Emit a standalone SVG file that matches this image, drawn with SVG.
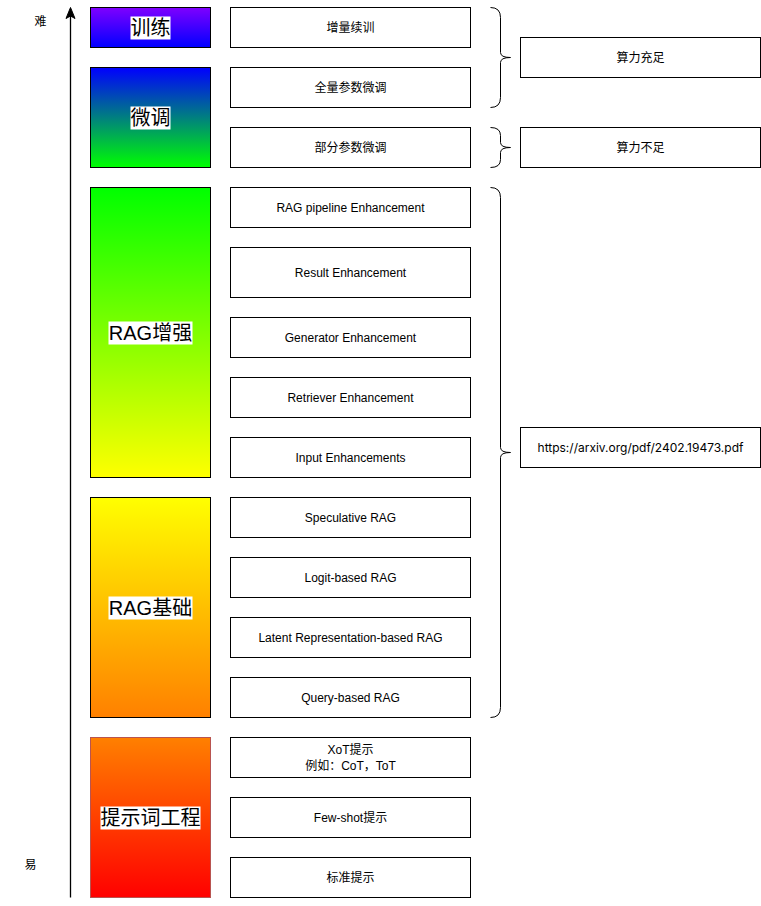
<svg xmlns="http://www.w3.org/2000/svg" width="761" height="906" viewBox="0 0 761 906">
<defs>
<linearGradient id="g1" x1="0" y1="0" x2="0" y2="1"><stop offset="0" stop-color="#7F00FF"/><stop offset="1" stop-color="#0000FF"/></linearGradient>
<linearGradient id="g2" x1="0" y1="0" x2="0" y2="1"><stop offset="0" stop-color="#0000FF"/><stop offset="1" stop-color="#00FF00"/></linearGradient>
<linearGradient id="g3" x1="0" y1="0" x2="0" y2="1"><stop offset="0" stop-color="#00FF00"/><stop offset="1" stop-color="#FFFF00"/></linearGradient>
<linearGradient id="g4" x1="0" y1="0" x2="0" y2="1"><stop offset="0" stop-color="#FFFF00"/><stop offset="1" stop-color="#FF8000"/></linearGradient>
<linearGradient id="g5" x1="0" y1="0" x2="0" y2="1"><stop offset="0" stop-color="#FF8000"/><stop offset="1" stop-color="#FF0000"/></linearGradient>
</defs>
<style>
text{font-family:"Liberation Sans","Noto Sans CJK SC",sans-serif;fill:#000;}
.t{font-size:12px;text-anchor:middle;dominant-baseline:central;}
.big{font-size:20px;text-anchor:middle;dominant-baseline:central;}
.box{fill:#fff;stroke:#000;stroke-width:1;}
.lvl{stroke:#000;stroke-width:1;}
.lbl{fill:#fff;}
.brace{fill:none;stroke:#000;stroke-width:1;}
.ax{font-size:12px;}
</style>
<rect width="761" height="906" fill="#fff"/>
<g transform="translate(0.5,0.5)">
<g id="axis">
<line x1="70" y1="897" x2="70" y2="14" stroke="#000" stroke-width="1.3"/>
<path d="M70,7 L74.5,18 L70,15.5 L65.5,18 Z" fill="#000" stroke="#000" stroke-width="1"/>
<text class="ax" x="40" y="21" text-anchor="middle" dominant-baseline="central">难</text>
<text class="ax" x="30" y="864" text-anchor="middle" dominant-baseline="central">易</text>
</g>

<g id="lvl-train"><rect class="lvl" x="90" y="7" width="120" height="40" fill="url(#g1)"/><rect class="lbl" x="130" y="16" width="40" height="23"/><text class="big" x="150" y="27">训练</text></g>
<g id="lvl-ft"><rect class="lvl" x="90" y="67" width="120" height="100" fill="url(#g2)"/><rect class="lbl" x="130" y="106" width="40" height="23"/><text class="big" x="150" y="117">微调</text></g>
<g id="lvl-rag-plus"><rect class="lvl" x="90" y="187" width="120" height="290" fill="url(#g3)"/><rect class="lbl" x="108" y="321" width="84" height="23"/><text class="big" x="150" y="332">RAG增强</text></g>
<g id="lvl-rag-base"><rect class="lvl" x="90" y="497" width="120" height="220" fill="url(#g4)"/><rect class="lbl" x="108" y="596" width="84" height="23"/><text class="big" x="150" y="607">RAG基础</text></g>
<g id="lvl-prompt"><rect x="90" y="737" width="120" height="160" fill="url(#g5)" stroke="#b85450" stroke-width="1"/><rect class="lbl" x="100" y="806" width="100" height="23"/><text class="big" x="150" y="817">提示词工程</text></g>

<g id="n1"><rect class="box" x="230" y="7" width="240" height="40"/><text class="t" x="350" y="27">增量续训</text></g>
<g id="n2"><rect class="box" x="230" y="67" width="240" height="40"/><text class="t" x="350" y="87">全量参数微调</text></g>
<g id="n3"><rect class="box" x="230" y="127" width="240" height="40"/><text class="t" x="350" y="147">部分参数微调</text></g>
<g id="n4"><rect class="box" x="230" y="187" width="240" height="40"/><text class="t" x="350" y="207">RAG pipeline Enhancement</text></g>
<g id="n5"><rect class="box" x="230" y="247" width="240" height="50"/><text class="t" x="350" y="272">Result Enhancement</text></g>
<g id="n6"><rect class="box" x="230" y="317" width="240" height="40"/><text class="t" x="350" y="337">Generator Enhancement</text></g>
<g id="n7"><rect class="box" x="230" y="377" width="240" height="40"/><text class="t" x="350" y="397">Retriever Enhancement</text></g>
<g id="n8"><rect class="box" x="230" y="437" width="240" height="40"/><text class="t" x="350" y="457">Input Enhancements</text></g>
<g id="n9"><rect class="box" x="230" y="497" width="240" height="40"/><text class="t" x="350" y="517">Speculative RAG</text></g>
<g id="n10"><rect class="box" x="230" y="557" width="240" height="40"/><text class="t" x="350" y="577">Logit-based RAG</text></g>
<g id="n11"><rect class="box" x="230" y="617" width="240" height="40"/><text class="t" x="350" y="637">Latent Representation-based RAG</text></g>
<g id="n12"><rect class="box" x="230" y="677" width="240" height="40"/><text class="t" x="350" y="697">Query-based RAG</text></g>
<g id="n13"><rect class="box" x="230" y="737" width="240" height="40"/><text class="t" x="350" y="749">XoT提示</text><text class="t" x="350" y="765">例如：CoT，ToT</text></g>
<g id="n14"><rect class="box" x="230" y="797" width="240" height="40"/><text class="t" x="350" y="817">Few-shot提示</text></g>
<g id="n15"><rect class="box" x="230" y="857" width="240" height="40"/><text class="t" x="350" y="877">标准提示</text></g>

<g id="r1"><rect class="box" x="520" y="37" width="240" height="40"/><text class="t" x="640" y="57">算力充足</text></g>
<g id="r2"><rect class="box" x="520" y="127" width="240" height="40"/><text class="t" x="640" y="147">算力不足</text></g>
<g id="r3"><rect class="box" x="520" y="427" width="240" height="40"/><text class="t" x="640" y="447" style="font-family:Inter,'Liberation Sans',sans-serif;font-size:12px">https://arxiv.org/pdf/2402.19473.pdf</text></g>

<g id="connectors">
<path class="brace" d="M490,7 Q500,7 500,17 L500,52 Q500,57 510,57 Q500,57 500,62 L500,97 Q500,107 490,107"/>
<path class="brace" d="M490,127 Q500,127 500,135 L500,142 Q500,147 510,147 Q500,147 500,152 L500,159 Q500,167 490,167"/>
<path class="brace" d="M490,187 Q500,187 500,197 L500,447 Q500,452 510,452 Q500,452 500,457 L500,707 Q500,717 490,717"/>
</g>
</g>
</svg>
